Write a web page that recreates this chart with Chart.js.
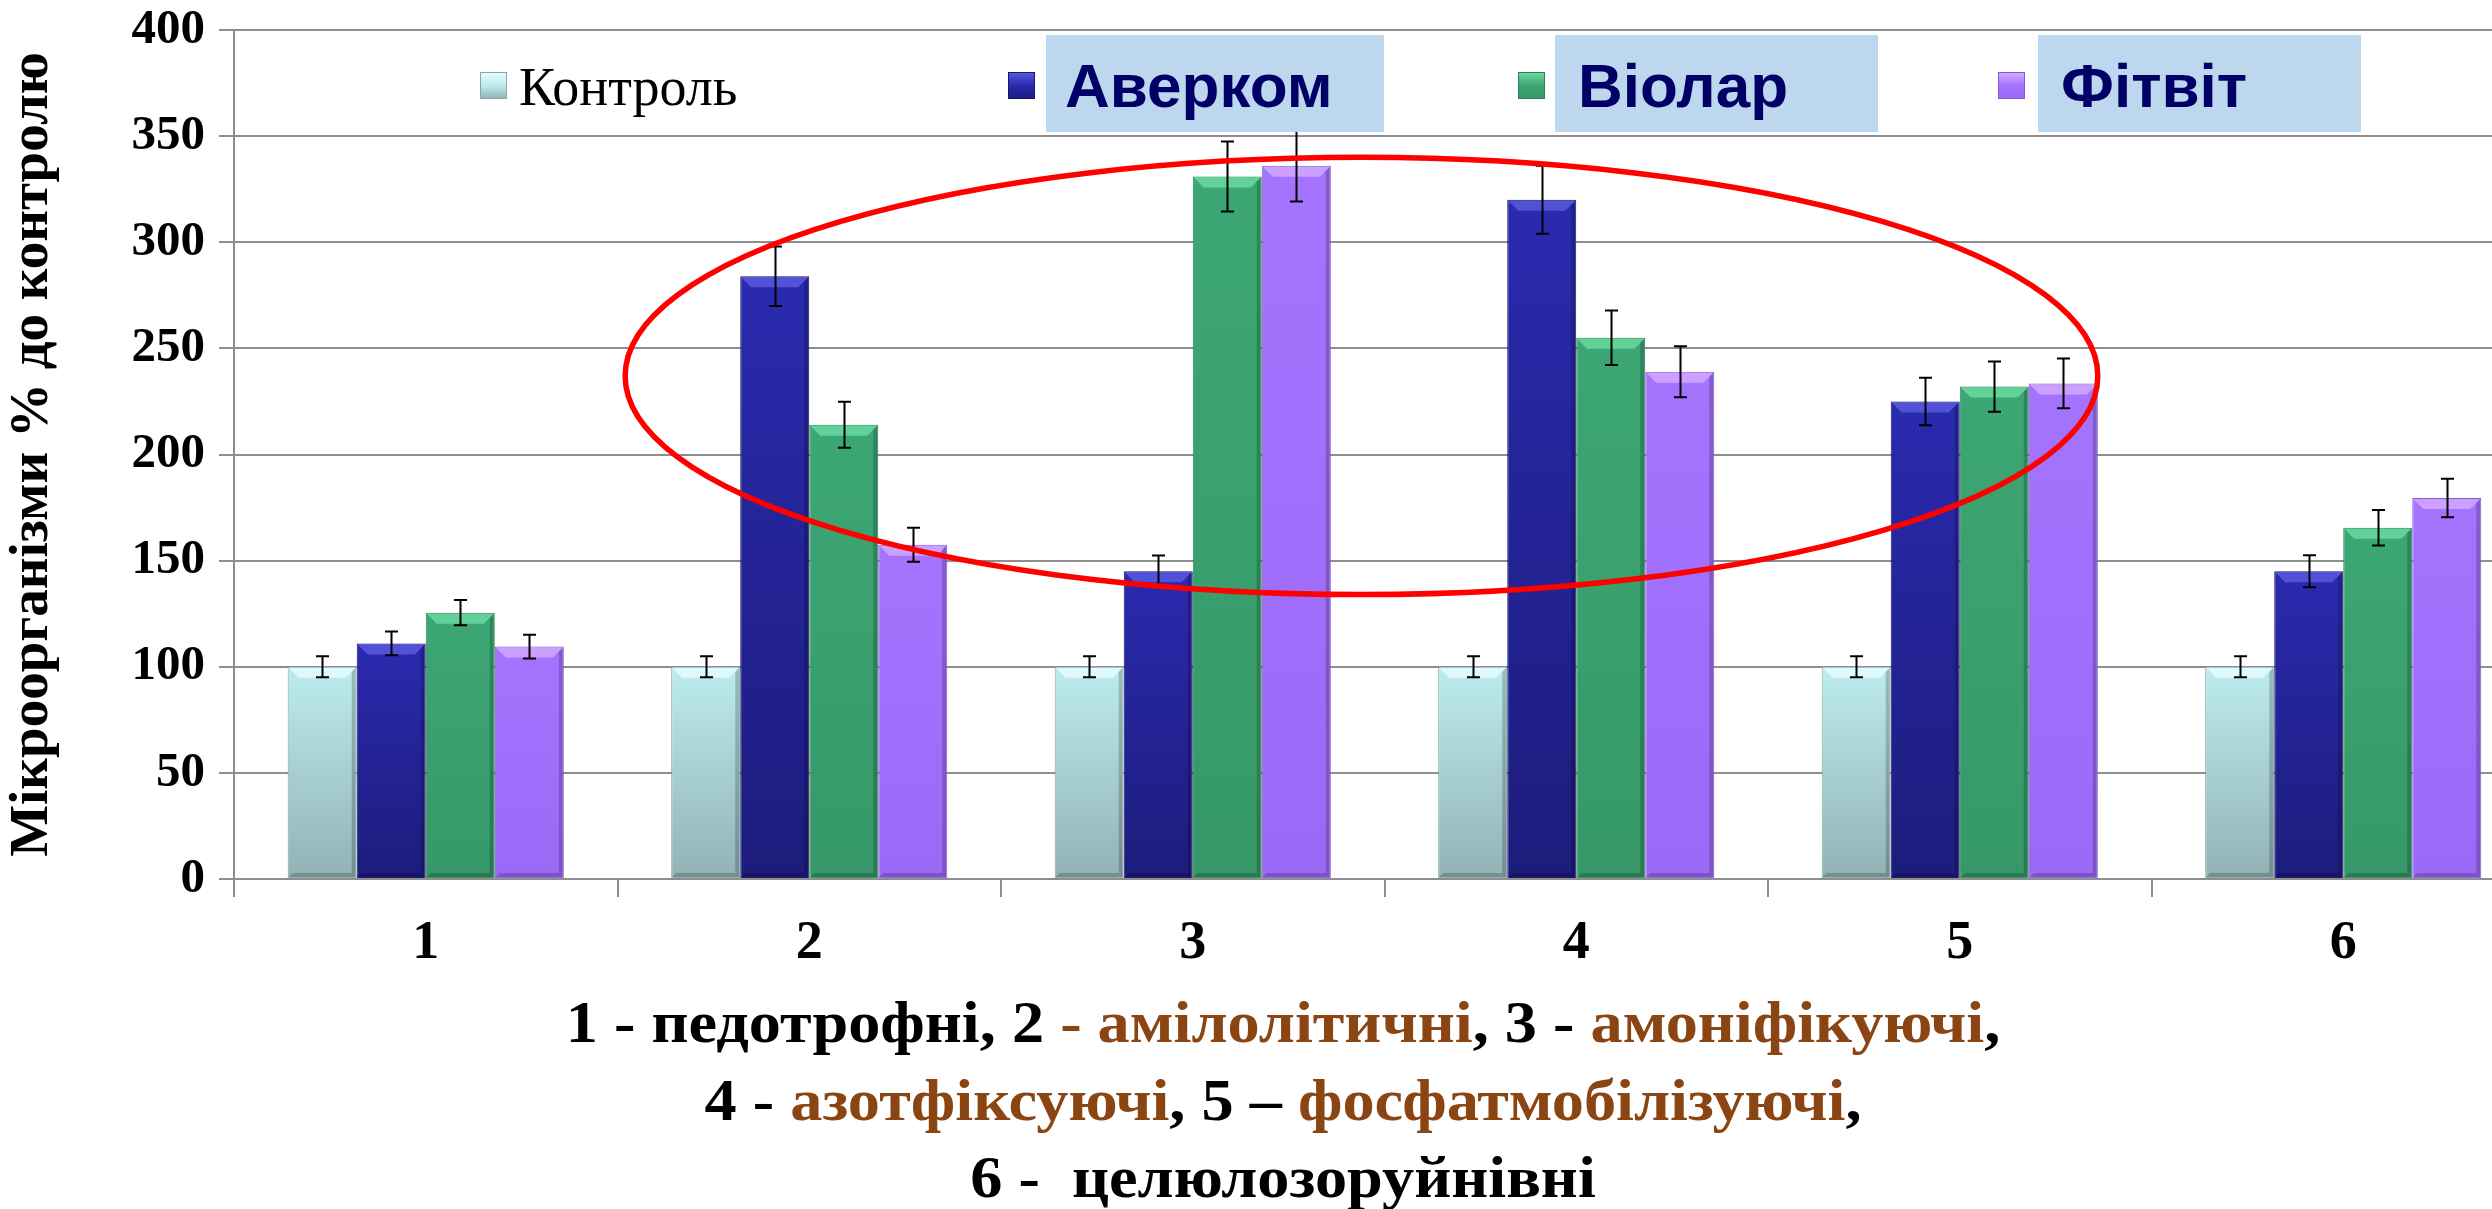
<!DOCTYPE html>
<html lang="uk">
<head>
<meta charset="utf-8">
<title>Мікроорганізми % до контролю</title>
<script src="https://cdn.jsdelivr.net/npm/chart.js@4"></script>
<style>
  html, body { margin: 0; padding: 0; background: #fff; overflow: hidden; }
  #wrap { position: relative; width: 2492px; height: 1209px; overflow: hidden; }
  #chart { position: absolute; left: 0; top: 0; }
  #caption {
    position: absolute; left: 1283px; top: 984px; transform: translateX(-50%) scaleX(1.09);
    white-space: nowrap; text-align: center;
    font: bold 59px "Liberation Serif", "Times New Roman", serif;
    line-height: 77.5px; color: #000;
  }
  #caption .br { color: #8B4513; }
</style>
</head>
<body>
<div id="wrap">
  <canvas id="chart" width="2545" height="1209"></canvas>
  <div id="caption">
    1 - педотрофні, 2 <span class="br">- амілолітичні</span>, 3 - <span class="br">амоніфікуючі</span>,<br>
    4 - <span class="br">азотфіксуючі</span>, 5 – <span class="br">фосфатмобілізуючі</span>,<br>
    6 -&nbsp; целюлозоруйнівні
  </div>
</div>
<script>
// категорії та значення (% до контролю)
const categories = ['1', '2', '3', '4', '5', '6'];
const seriesNames = ['Контроль', 'Аверком', 'Віолар', 'Фітвіт'];

const kontrol = [100, 100, 100, 100, 100, 100];
const averkom = [111, 284, 145, 320, 225, 145];
const violar  = [125.5, 214, 331, 255, 232, 165.5];
const fitvit  = [109.5, 157.5, 336, 239, 233.5, 179.5];

// похибки (±)
const kontrolErr = [5, 5, 5, 5, 5, 5];
const averkomErr = [5.6, 14, 7.4, 16, 11.2, 7.5];
const violarErr  = [6, 10.8, 16.5, 12.8, 11.8, 8.4];
const fitvitErr  = [5.6, 8, 16.8, 12, 11.7, 9.1];

// вісь Y
const yMin = 0, yMax = 400, yStep = 50;

const errors = [kontrolErr, averkomErr, violarErr, fitvitErr];
const values = [kontrol, averkom, violar, fitvit];

// кольори серій: верх / низ градієнта, фаска, рамка
const palette = [
    { top: '#BDECEF', bottom: '#91B2B5', bevel: '#E8FCFD', border: '#86A6A9' },
    { top: '#2A2AAF', bottom: '#1C1C7C', bevel: '#5C5CE2', border: '#17176A' },
    { top: '#3CA774', bottom: '#369868', bevel: '#6CDDA2', border: '#2D7F57' },
    { top: '#A474FF', bottom: '#9B69F6', bevel: '#D6ABFF', border: '#8457D6' }
];

// червоний овал (у одиницях осей)
const oval = { cx: 2.44, cy: 237, rx: 1.92, ry: 103 };

function barGradient(i) {
    return (ctx) => {
        const chart = ctx.chart;
        const y = chart.scales.y;
        if (!y || ctx.raw == null) return palette[i].top;
        const top = y.getPixelForValue(ctx.raw);
        const bottom = y.getPixelForValue(0);
        if (!isFinite(top) || !isFinite(bottom) || top === bottom) return palette[i].top;
        const g = chart.ctx.createLinearGradient(0, top, 0, bottom);
        g.addColorStop(0, palette[i].top);
        g.addColorStop(1, palette[i].bottom);
        return g;
    };
}

// фаска зверху стовпчиків
const bevelPlugin = {
    id: 'bevel',
    afterDatasetsDraw(chart) {
        const ctx = chart.ctx;
        chart.data.datasets.forEach((ds, di) => {
            const meta = chart.getDatasetMeta(di);
            meta.data.forEach(bar => {
                const w = bar.width, l = bar.x - w / 2, r = bar.x + w / 2, t = bar.y, b = 11;
                ctx.save();
                ctx.fillStyle = palette[di].bevel;
                ctx.globalAlpha = 0.8;
                ctx.beginPath();
                ctx.moveTo(l + 1, t + 1);
                ctx.lineTo(r - 1, t + 1);
                ctx.lineTo(r - b, t + b);
                ctx.lineTo(l + b, t + b);
                ctx.closePath();
                ctx.fill();
                // темніші бокові та нижні грані
                ctx.globalAlpha = 0.2;
                ctx.fillStyle = '#000';
                ctx.beginPath();
                ctx.moveTo(r - 1, t + 1);
                ctx.lineTo(r - 1, bar.base - 1);
                ctx.lineTo(r - 5, bar.base - 5);
                ctx.lineTo(r - 5, t + 5);
                ctx.closePath();
                ctx.fill();
                ctx.beginPath();
                ctx.moveTo(l + 1, bar.base - 1);
                ctx.lineTo(r - 1, bar.base - 1);
                ctx.lineTo(r - 5, bar.base - 5);
                ctx.lineTo(l + 5, bar.base - 5);
                ctx.closePath();
                ctx.fill();
                ctx.restore();
            });
        });
    }
};

// планки похибок
const errorBarPlugin = {
    id: 'errorBars',
    afterDatasetsDraw(chart) {
        const ctx = chart.ctx, y = chart.scales.y;
        ctx.save();
        ctx.strokeStyle = '#000';
        ctx.lineWidth = 2;
        chart.data.datasets.forEach((ds, di) => {
            const meta = chart.getDatasetMeta(di);
            meta.data.forEach((bar, i) => {
                const v = ds.data[i], e = errors[di][i];
                const hi = y.getPixelForValue(v + e), lo = y.getPixelForValue(v - e);
                const x = Math.round(bar.x) + 0.5;
                ctx.beginPath();
                ctx.moveTo(x, hi); ctx.lineTo(x, lo);
                ctx.moveTo(x - 6.5, hi); ctx.lineTo(x + 6.5, hi);
                ctx.moveTo(x - 6.5, lo); ctx.lineTo(x + 6.5, lo);
                ctx.stroke();
            });
        });
        ctx.restore();
    }
};

// червоний овал
const ovalPlugin = {
    id: 'oval',
    afterDatasetsDraw(chart) {
        const ctx = chart.ctx, x = chart.scales.x, y = chart.scales.y;
        const cx = x.getPixelForValue(oval.cx);
        const rx = x.getPixelForValue(oval.cx + oval.rx) - cx;
        const cy = y.getPixelForValue(oval.cy);
        const ry = cy - y.getPixelForValue(oval.cy + oval.ry);
        ctx.save();
        ctx.strokeStyle = '#FF0000';
        ctx.lineWidth = 5.5;
        ctx.beginPath();
        ctx.ellipse(cx, cy, rx, ry, 0, 0, Math.PI * 2);
        ctx.stroke();
        ctx.restore();
    }
};

// легенда всередині області графіка
const legendItems = [
    { marker: 480, text: 519, box: null, font: '54px "Liberation Serif"', color: '#000', base: 105 },
    { marker: 1008, text: 1065, box: [1046, 1384], font: 'bold 62px "Liberation Sans"', color: '#000066', base: 107 },
    { marker: 1518, text: 1578, box: [1555, 1878], font: 'bold 62px "Liberation Sans"', color: '#000066', base: 107 },
    { marker: 1998, text: 2061, box: [2038, 2361], font: 'bold 62px "Liberation Sans"', color: '#000066', base: 107 }
];
const legendPlugin = {
    id: 'boxLegend',
    afterDraw(chart) {
        const ctx = chart.ctx;
        ctx.save();
        legendItems.forEach((it, i) => {
            if (it.box) {
                ctx.fillStyle = '#BDD7EE';
                ctx.fillRect(it.box[0], 35, it.box[1] - it.box[0], 97);
            }
            const g = ctx.createLinearGradient(0, 72, 0, 99);
            g.addColorStop(0, palette[i].bevel);
            g.addColorStop(0.5, palette[i].top);
            g.addColorStop(1, palette[i].bottom);
            ctx.fillStyle = g;
            ctx.fillRect(it.marker, 72, 27, 27);
            ctx.strokeStyle = palette[i].border;
            ctx.lineWidth = 1;
            ctx.strokeRect(it.marker + 0.5, 72.5, 26, 26);
            ctx.fillStyle = it.color;
            ctx.font = it.font;
            ctx.textBaseline = 'alphabetic';
            ctx.textAlign = 'left';
            ctx.fillText(seriesNames[i], it.text, it.base);
        });
        ctx.restore();
    }
};

const gridColor = '#8E8E8E';

new Chart(document.getElementById('chart'), {
    type: 'bar',
    data: {
        labels: categories,
        datasets: seriesNames.map((name, i) => ({
            label: name,
            data: values[i],
            backgroundColor: barGradient(i),
            borderColor: palette[i].border,
            borderWidth: 1,
            barPercentage: 1.0,
            categoryPercentage: 0.72
        }))
    },
    options: {
        responsive: false,
        animation: false,
        devicePixelRatio: 1,
        layout: { padding: { top: 30, right: 10, left: 0, bottom: 0 } },
        plugins: { legend: { display: false }, tooltip: { enabled: false } },
        scales: {
            x: {
                grid: { display: true, drawOnChartArea: false, color: gridColor, lineWidth: 2, tickLength: 18, offset: true },
                border: { color: gridColor, width: 2 },
                ticks: { color: '#000', font: { family: '"Liberation Serif"', size: 54, weight: 'bold' }, padding: 15, maxRotation: 0 },
                afterFit(scale) { scale.height = 330; scale.paddingLeft = 0; scale.paddingRight = 0; }
            },
            y: {
                min: yMin, max: yMax,
                ticks: { stepSize: yStep, color: '#000', font: { family: '"Liberation Serif"', size: 49, weight: 'bold' }, padding: 14 },
                grid: { color: gridColor, lineWidth: 2, tickLength: 15 },
                border: { color: gridColor, width: 2 },
                title: {
                    display: true,
                    text: 'Мікроорганізми % до контролю',
                    color: '#000',
                    font: { family: '"Liberation Serif"', size: 55, weight: 'bold' },
                    padding: { top: 0, bottom: 0 }
                },
                afterFit(scale) { scale.width = 234; scale.paddingTop = 0; scale.paddingBottom = 0; }
            }
        }
    },
    plugins: [bevelPlugin, errorBarPlugin, ovalPlugin, legendPlugin]
});
</script>
</body>
</html>
